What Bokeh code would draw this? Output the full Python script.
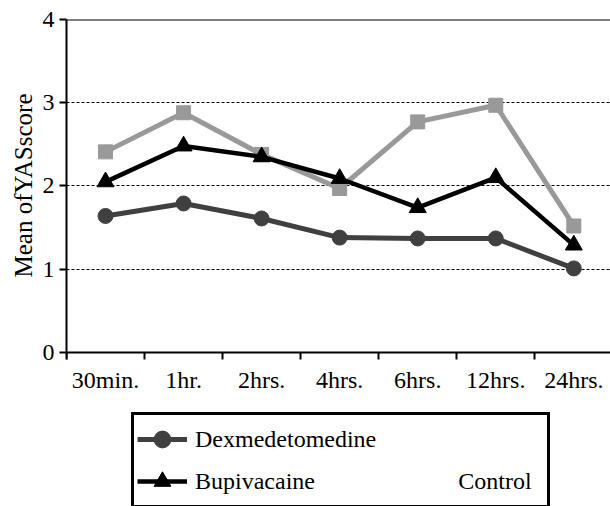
import numpy as np
from bokeh.plotting import figure
from bokeh.models import (Range1d, FixedTicker, Legend, LegendItem, Span,
                          ColumnDataSource, Title)
from bokeh.embed import file_html
from bokeh.resources import INLINE

# ---- data ----
time_labels = ["30min.", "1hr.", "2hrs.", "4hrs.", "6hrs.", "12hrs.", "24hrs."]
dexmedetomidine = [1.64, 1.79, 1.61, 1.38, 1.37, 1.37, 1.01]
bupivacaine = [2.05, 2.48, 2.35, 2.09, 1.74, 2.10, 1.29]
control = [2.41, 2.88, 2.38, 1.97, 2.77, 2.97, 1.52]
y_ticks = [0, 1, 2, 3, 4]
grid_levels = [1, 2, 3]
y_label = "Mean ofYASscore"
series_names = ["Dexmedetomedine", "Bupivacaine", "Control"]

FONT = "'Liberation Serif', 'Times New Roman', Times, serif"

n = len(time_labels)
xc = [i + 0.5 for i in range(n)]          # category centres
bounds = list(range(n + 1))               # category boundaries

# the frame runs to the bottom of the picture so that the legend below the
# x axis is drawn inside it; the x axis is fixed at y = 0
p = figure(width=610, height=506, output_backend="svg", toolbar_location=None,
           x_range=Range1d(0, 6.97), y_range=Range1d(-1.85, y_ticks[-1]),
           min_border_left=66, min_border_top=19, min_border_right=0,
           min_border_bottom=0)
p.outline_line_color = None
p.background_fill_color = "white"
p.border_fill_color = "white"

# ---- axes ----
xa = p.xaxis[0]
xa.fixed_location = y_ticks[0]
xa.ticker = FixedTicker(ticks=xc, minor_ticks=bounds)
xa.major_label_overrides = {x: lab for x, lab in zip(xc, time_labels)}
xa.major_tick_line_color = None
xa.major_tick_out = 7
xa.major_tick_in = 0
xa.minor_tick_out = 7
xa.minor_tick_in = 0
xa.minor_tick_line_color = "black"
xa.minor_tick_line_width = 2
xa.axis_line_width = 2
xa.axis_line_color = "black"
xa.major_label_text_font = FONT
xa.major_label_text_font_size = "24px"
xa.major_label_text_color = "black"
xa.major_label_standoff = 8

ya = p.yaxis[0]
ya.bounds = (-0.085, y_ticks[-1])
ya.ticker = FixedTicker(ticks=y_ticks)
ya.minor_tick_line_color = None
ya.major_tick_out = 7
ya.major_tick_in = 0
ya.major_tick_line_width = 2
ya.major_tick_line_color = "black"
ya.axis_line_width = 2
ya.axis_line_color = "black"
ya.major_label_text_font = FONT
ya.major_label_text_font_size = "24px"
ya.major_label_text_color = "black"
ya.major_label_standoff = 5

# y axis title, placed along the 0-4 part of the axis
p.add_layout(Title(text=y_label, align="right", offset=74, standoff=5,
                   text_font=FONT, text_font_size="25px",
                   text_font_style="normal", text_color="black"), "left")

p.xgrid.visible = False
p.ygrid.ticker = FixedTicker(ticks=grid_levels)
p.ygrid.grid_line_color = "black"
p.ygrid.grid_line_dash = "3 2"
p.ygrid.grid_line_width = 1

# top frame border
p.add_layout(Span(location=y_ticks[-1], dimension="width",
                  line_color="black", line_width=2))

# ---- series ----
src = ColumnDataSource(dict(x=xc, dex=dexmedetomidine, bup=bupivacaine, ctl=control))

ctl_l = p.line("x", "ctl", source=src, line_color="#999999", line_width=5)
ctl_m = p.scatter("x", "ctl", source=src, marker="square", size=14,
                  fill_color="#999999", line_color="#999999")

bup_l = p.line("x", "bup", source=src, line_color="black", line_width=4.5)
bup_m = p.scatter("x", "bup", source=src, marker="triangle", size=17,
                  fill_color="black", line_color="black")

dex_l = p.line("x", "dex", source=src, line_color="#404040", line_width=5)
dex_m = p.scatter("x", "dex", source=src, marker="circle", size=15,
                  fill_color="#404040", line_color="#404040")

# invisible renderer for legend entries drawn without a glyph
blank = p.line(x=[], y=[], line_alpha=0)

NB = "\u00a0"
legend = Legend(items=[
    LegendItem(label=series_names[0], renderers=[dex_l, dex_m]),
    LegendItem(label=series_names[1], renderers=[bup_l, bup_m]),
    LegendItem(label=NB, renderers=[blank]),
    LegendItem(label=NB * 4 + series_names[2] + NB * 2, renderers=[blank]),
], location=(65, -2), nrows=2, orientation="vertical")
legend.border_line_color = "black"
legend.border_line_width = 3
legend.border_line_alpha = 1
legend.background_fill_color = "white"
legend.background_fill_alpha = 1
legend.label_text_font = FONT
legend.label_text_font_size = "24px"
legend.label_text_color = "black"
legend.glyph_width = 50
legend.glyph_height = 42
legend.label_height = 42
legend.label_standoff = 8
legend.spacing = 0
legend.padding = 3
legend.margin = 0
p.add_layout(legend)

open("out.html", "w").write(file_html(p, INLINE))
